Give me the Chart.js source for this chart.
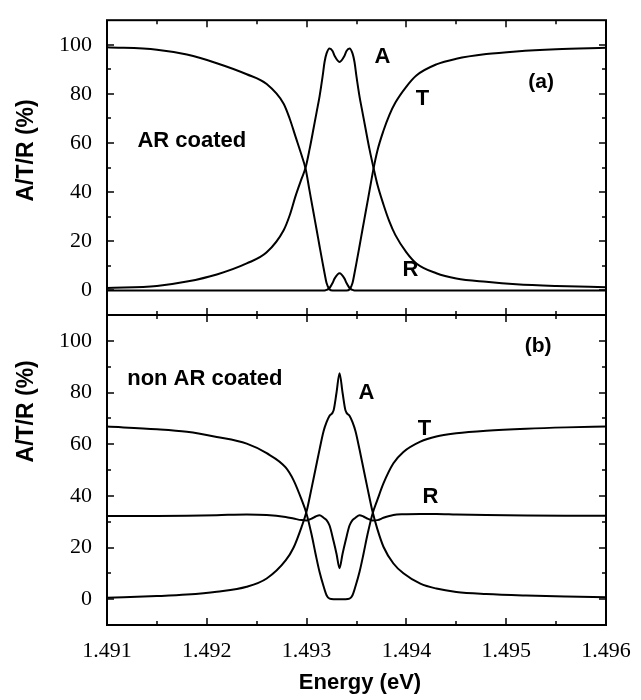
<!DOCTYPE html>
<html><head><meta charset="utf-8">
<script src="https://cdn.jsdelivr.net/npm/chart.js@4/dist/chart.umd.min.js"></script>
<style>
html,body{margin:0;padding:0;background:#fff;}
#wrap{position:relative;width:641px;height:700px;background:#fff;}
canvas{position:absolute;left:0;top:0;}
</style></head><body>
<div id="wrap"><canvas id="ca" width="641" height="700"></canvas><canvas id="cb" width="641" height="700"></canvas></div>
<script>
// ---------- data: panel (a) AR coated ----------
const energyA = [1.4910,1.4915,1.4918,1.4921,1.4924,1.4926,1.49277,1.49283,1.49289,1.49295,1.49299,
  1.49303,1.49307,1.49310,1.49313,1.49316,1.49318,1.49320,1.49323,1.49326,1.49328,
  1.49333,1.49338,1.49340,1.49343,1.49346,1.49348,1.49350,1.49353,1.49356,1.49359,
  1.49363,1.49367,1.49371,1.49377,1.49383,1.49389,1.4940,1.4941,1.4943,1.4945,1.4948,
  1.4951,1.4955,1.4960];
const transA = [99.0,98.0,96.0,92.5,88.0,84.0,76.0,70.0,62.5,55.0,49.5,
  40.5,31.5,24.8,18.0,11.3,7.0,3.0,0.4,0,0,
  0,0,0,0.4,3.0,7.0,11.3,18.0,24.8,31.5,
  40.5,49.5,57.0,65.0,71.5,76.5,83.0,87.5,92.0,94.3,96.2,
  97.3,98.2,98.8];
const absA = [1.0,1.8,3.6,6.5,11.0,15.5,24.5,30.5,38.5,45.5,50.0,
  57.5,66.0,72.5,79.0,87.0,93.0,96.5,98.5,97.5,95.5,
  93.0,95.5,97.5,98.5,96.5,93.0,87.0,79.0,72.5,66.0,
  57.5,50.0,43.0,35.0,28.0,22.5,15.5,11.0,7.0,4.9,3.5,
  2.5,1.8,1.3];
const reflA = [0,0,0,0,0,0,0,0,0,0,0,
  0,0,0,0,0,0,0.2,1.0,3.0,4.8,
  7.0,4.8,3.0,1.0,0.2,0,0,0,0,0,
  0,0,0,0,0,0,0,0,0,0,0,
  0,0,0];

// ---------- data: panel (b) non AR coated ----------
const energyB = [1.4910,1.4915,1.4918,1.4921,1.4924,1.4926,1.49279,1.49287,1.49295,1.49300,
  1.49305,1.49309,1.49313,1.49317,1.49320,1.49323,1.49327,1.49330,1.49333,1.49336,
  1.49339,1.49343,1.49346,1.49349,1.49353,1.49357,1.49361,1.49366,1.49371,1.49377,
  1.49387,1.49397,1.49414,1.4943,1.4945,1.4948,1.4952,1.4956,1.4960];
const transB = [66.8,65.8,64.8,62.8,60.2,56.5,51.0,46.0,38.5,33.0,
  25.0,17.5,10.5,5.0,1.5,0.2,0,0,0,0,
  0,0.2,1.5,5.0,10.5,17.5,25.0,33.0,38.5,44.8,
  52.6,57.0,61.0,63.0,64.2,65.2,66.0,66.5,66.8];
const absB = [0.5,1.2,1.8,2.9,4.8,8.0,15.0,20.0,28.0,34.0,
  43.0,50.5,58.0,65.0,68.5,71.0,73.0,80.0,87.5,80.0,
  73.0,71.0,68.5,65.0,58.0,50.5,43.0,34.0,27.0,20.3,
  13.8,10.0,6.0,4.1,2.8,2.0,1.4,1.0,0.7];
const reflB = [32.2,32.2,32.3,32.5,32.8,32.6,31.8,31.2,30.6,30.5,
  31.2,32.0,32.5,31.5,30.6,28.5,22.5,17.5,12.0,17.5,
  22.5,28.5,30.6,31.5,32.5,32.0,31.2,30.5,30.6,31.5,
  32.6,32.9,33.0,33.0,32.8,32.6,32.4,32.3,32.3];

// ---------- ticks ----------
const xTicks = [1.491,1.492,1.493,1.494,1.495,1.496];
const xMinorTicks = [1.4915,1.4925,1.4935,1.4945,1.4955];
const yTicks = [0,20,40,60,80,100];
const yMinorTicks = [10,30,50,70,90];
const yTitle = 'A/T/R (%)';
const xTitle = 'Energy (eV)';

const SANS = '"Liberation Sans", Arial, Helvetica, sans-serif';
const SERIF = '"Liberation Serif", "Times New Roman", serif';

const framePlugin = {
  id: 'frame',
  afterDraw(chart) {
    const {ctx, chartArea: a, scales: {x, y}} = chart;
    ctx.save();
    ctx.strokeStyle = '#000';
    ctx.lineWidth = 2;
    ctx.strokeRect(a.left, a.top, a.right - a.left, a.bottom - a.top);
    ctx.lineWidth = 1.5;
    const seg = (x1, y1, x2, y2) => { ctx.beginPath(); ctx.moveTo(x1, y1); ctx.lineTo(x2, y2); ctx.stroke(); };
    const xt = (list, len) => list.forEach(v => { const p = Math.round(x.getPixelForValue(v)); seg(p, a.bottom, p, a.bottom - len); seg(p, a.top, p, a.top + len); });
    const yt = (list, len) => list.forEach(v => { const p = Math.round(y.getPixelForValue(v)); seg(a.left, p, a.left + len, p); seg(a.right, p, a.right - len, p); });
    xt(xTicks, 7); xt(xMinorTicks, 4);
    yt(yTicks, 7); yt(yMinorTicks, 4);
    ctx.restore();
  }
};

const textPlugin = {
  id: 'texts',
  afterDraw(chart, args, opts) {
    const {ctx, scales: {x, y}} = chart;
    ctx.save();
    ctx.fillStyle = '#000';
    ctx.textAlign = 'center';
    ctx.textBaseline = 'middle';
    (opts.labels || []).forEach(l => {
      ctx.font = 'bold ' + l.size + 'px ' + SANS;
      ctx.fillText(l.text, x.getPixelForValue(l.e), y.getPixelForValue(l.v));
    });
    (opts.yTitles || []).forEach(t => {
      ctx.save();
      ctx.font = 'bold 23px ' + SANS;
      ctx.translate(t.px, y.getPixelForValue(t.v));
      ctx.rotate(-Math.PI / 2);
      ctx.fillText(yTitle, 0, 0);
      ctx.restore();
    });
    (opts.xTitles || []).forEach(t => {
      ctx.font = 'bold 22px ' + SANS;
      ctx.fillText(xTitle, t.px, t.py);
    });
    ctx.restore();
  }
};

function series(energy, values) {
  return energy.map((e, i) => ({x: e, y: values[i]}));
}

function makeChart(id, energy, trans, abs, refl, cfg) {
  const ds = [['T', trans], ['A', abs], ['R', refl]].map(([name, vals]) => ({
    label: name,
    data: series(energy, vals),
    borderColor: '#000',
    borderWidth: 2,
    pointRadius: 0,
    fill: false,
    cubicInterpolationMode: 'monotone'
  }));
  return new Chart(document.getElementById(id), {
    type: 'line',
    data: {datasets: ds},
    options: {
      responsive: false,
      animation: false,
      devicePixelRatio: 1,
      layout: {padding: {left: 0, right: 35, top: cfg.top, bottom: cfg.bottom}},
      plugins: {
        legend: {display: false},
        tooltip: {enabled: false},
        texts: cfg.texts
      },
      scales: {
        x: {
          type: 'linear', min: 1.491, max: 1.496,
          display: cfg.showX,
          grid: {display: false}, border: {display: false},
          afterBuildTicks: s => { s.ticks = xTicks.map(v => ({value: v})); },
          afterFit: s => { s.height = cfg.xHeight; },
          ticks: {
            padding: 5, color: '#000', maxRotation: 0, autoSkip: false,
            font: {family: SERIF, size: 22},
            callback: v => Number(v).toFixed(3)
          }
        },
        y: {
          type: 'linear', min: -10, max: 110,
          grid: {display: false}, border: {display: false},
          afterBuildTicks: s => { s.ticks = yTicks.map(v => ({value: v})); },
          afterFit: s => { s.width = 107; },
          ticks: {padding: 7, color: '#000', font: {family: SERIF, size: 22}}
        }
      }
    },
    plugins: [framePlugin, textPlugin]
  });
}

makeChart('ca', energyA, transA, absA, reflA, {
  top: 6, bottom: 385, showX: false, xHeight: 0,
  texts: {
    labels: [
      {text: 'A', e: 1.49376, v: 95, size: 22},
      {text: 'T', e: 1.49416, v: 78, size: 22},
      {text: 'R', e: 1.49404, v: 8.5, size: 22},
      {text: '(a)', e: 1.49535, v: 84.7, size: 21},
      {text: 'AR coated', e: 1.49185, v: 61, size: 22}
    ],
    yTitles: [{px: 27, v: 57}]
  }
});

makeChart('cb', energyB, transB, absB, reflB, {
  top: 315, bottom: 0, showX: true, xHeight: 75,
  texts: {
    labels: [
      {text: 'A', e: 1.49360, v: 79.8, size: 22},
      {text: 'T', e: 1.49418, v: 66, size: 22},
      {text: 'R', e: 1.49424, v: 39.5, size: 22},
      {text: '(b)', e: 1.49532, v: 98, size: 21},
      {text: 'non AR coated', e: 1.49198, v: 85.3, size: 22}
    ],
    yTitles: [{px: 27, v: 72.7}],
    xTitles: [{px: 360, py: 683}]
  }
});
</script>
</body></html>
